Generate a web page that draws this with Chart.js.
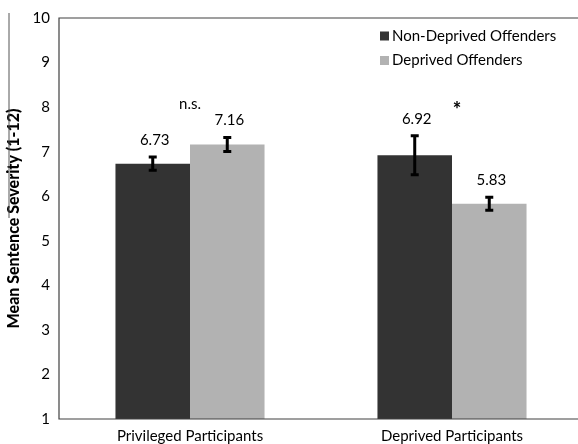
<!DOCTYPE html>
<html>
<head>
<meta charset="utf-8">
<script src="https://cdn.jsdelivr.net/npm/chart.js@4.4.1/dist/chart.umd.min.js"></script>
<style>
html,body{margin:0;padding:0;background:#fff;overflow:hidden;}
#wrap{width:578px;height:444px;position:relative;overflow:hidden;}
canvas{display:block;}
</style>
</head>
<body>
<div id="wrap"><canvas id="c" width="583" height="444"></canvas></div>
<script>
const categories = ['Privileged Participants', 'Deprived Participants'];
const seriesNames = ['Non-Deprived Offenders', 'Deprived Offenders'];
const nonDeprived = [6.73, 6.92];
const deprived = [7.16, 5.83];
const nonDeprivedErr = [0.17, 0.46];
const deprivedErr = [0.18, 0.17];
const significance = ['n.s.', '*'];
const yTicks = [1, 2, 3, 4, 5, 6, 7, 8, 9, 10];

const colors = ['#333333', '#b2b2b2'];
const errs = [nonDeprivedErr, deprivedErr];
const FONT = 'Lato, "Open Sans", sans-serif';

const overlay = {
  id: 'overlay',
  afterDatasetsDraw(chart) {
    const ctx = chart.ctx;
    const ca = chart.chartArea;
    const y = chart.scales.y;
    ctx.save();
    // frame
    ctx.strokeStyle = '#404040';
    ctx.lineWidth = 1.2;
    ctx.beginPath();
    ctx.moveTo(chart.width + 2, ca.top);
    ctx.lineTo(ca.left, ca.top);
    ctx.lineTo(ca.left, ca.bottom);
    ctx.lineTo(chart.width + 2, ca.bottom);
    ctx.stroke();
    // stray line at far left
    ctx.lineWidth = 1;
    ctx.strokeStyle = '#555';
    ctx.beginPath();
    ctx.moveTo(9, 13);
    ctx.lineTo(9, 218);
    ctx.stroke();

    // error bars + value labels
    chart.data.datasets.forEach((ds, di) => {
      const meta = chart.getDatasetMeta(di);
      meta.data.forEach((bar, i) => {
        const v = ds.data[i];
        const e = errs[di][i];
        const yt = y.getPixelForValue(v + e);
        const yb = y.getPixelForValue(v - e);
        const x = bar.x;
        ctx.strokeStyle = '#000';
        ctx.lineWidth = 3;
        ctx.beginPath();
        ctx.moveTo(x, yt); ctx.lineTo(x, yb);
        ctx.moveTo(x - 4, yt + 1); ctx.lineTo(x + 4, yt + 1);
        ctx.moveTo(x - 4, yb - 1); ctx.lineTo(x + 4, yb - 1);
        ctx.stroke();
        ctx.fillStyle = '#000';
        ctx.font = '15px ' + FONT;
        ctx.textAlign = 'center';
        ctx.textBaseline = 'middle';
        ctx.fillText(v.toFixed(2), x + 2, yt - 16);
      });
    });

    // significance marks
    const x = chart.scales.x;
    ctx.fillStyle = '#000';
    ctx.textAlign = 'center';
    ctx.textBaseline = 'middle';
    ctx.font = '15px ' + FONT;
    ctx.fillText(significance[0], x.getPixelForValue(0), y.getPixelForValue(8.06));
    ctx.font = '900 20px ' + FONT;
    ctx.fillText(significance[1], x.getPixelForValue(1) + 5, y.getPixelForValue(7.92));

    // legend
    ctx.font = '15px ' + FONT;
    ctx.textAlign = 'left';
    seriesNames.forEach((n, k) => {
      const cy = 36 + k * 24.5;
      ctx.fillStyle = colors[k];
      ctx.fillRect(380, cy - 4.5, 9, 9);
      ctx.fillStyle = '#000';
      ctx.fillText(n, 392, cy);
    });
    ctx.restore();
  }
};

new Chart(document.getElementById('c'), {
  type: 'bar',
  data: {
    labels: categories,
    datasets: [
      { label: seriesNames[0], data: nonDeprived, backgroundColor: colors[0], borderWidth: 0,
        categoryPercentage: 0.569, barPercentage: 1 },
      { label: seriesNames[1], data: deprived, backgroundColor: colors[1], borderWidth: 0,
        categoryPercentage: 0.569, barPercentage: 1 }
    ]
  },
  options: {
    responsive: false,
    animation: false,
    events: [],
    layout: { padding: { left: 0, right: 0, top: 18, bottom: 0 } },
    plugins: { legend: { display: false }, tooltip: { enabled: false } },
    scales: {
      x: {
        afterFit(s) { s.height = 25; },
        grid: { display: false, drawTicks: false },
        border: { display: false },
        ticks: { color: '#000', font: { family: FONT, size: 15 }, padding: 8, maxRotation: 0 }
      },
      y: {
        min: 1, max: 10,
        afterFit(s) { s.width = 59; },
        afterBuildTicks(s) { s.ticks = yTicks.map(v => ({ value: v })); },
        grid: { display: false, drawTicks: false },
        border: { display: false },
        ticks: { color: '#000', font: { family: FONT, size: 15 }, padding: 9 },
        title: {
          display: true,
          text: 'Mean Sentence Severity (1-12)',
          color: '#000',
          font: { family: FONT, size: 16, weight: '900' },
          padding: { top: 4, bottom: 0 }
        }
      }
    }
  },
  plugins: [overlay]
});
</script>
</body>
</html>
